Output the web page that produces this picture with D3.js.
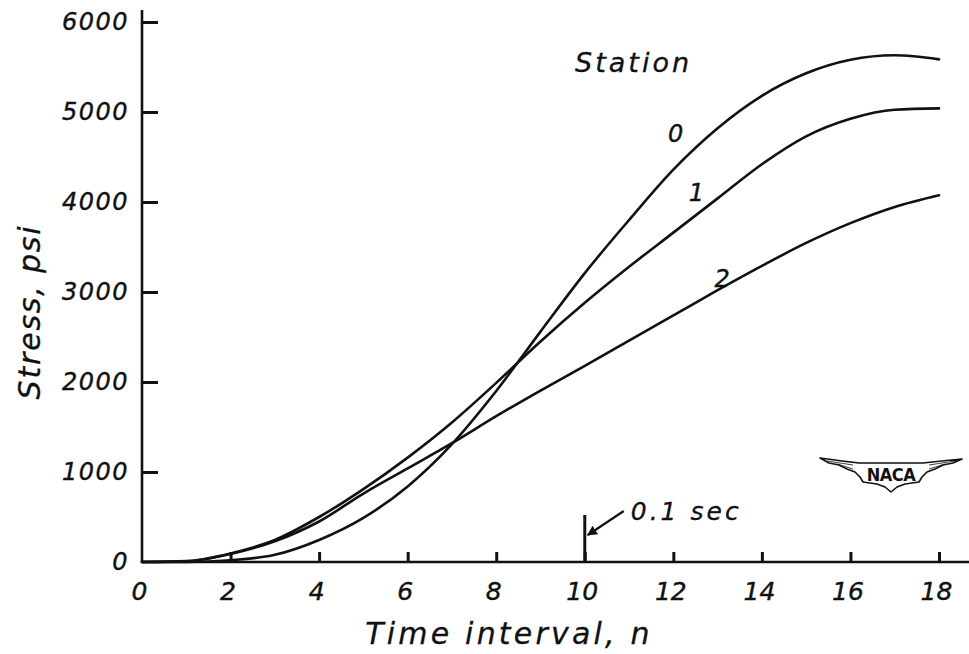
<!DOCTYPE html>
<html>
<head>
<meta charset="utf-8">
<script src="https://cdn.jsdelivr.net/npm/d3@7"></script>
<style>
  body { margin: 0; background: #fff; }
  text { font-family: "DejaVu Sans", sans-serif; font-style: oblique; fill: #111; }
</style>
</head>
<body>
<div id="chart"></div>
<script>
// time interval n, stress (psi) at each interval
const intervals = d3.range(0, 19);
const station0 = [0, 0, 20, 80, 245, 490, 840, 1310, 1900, 2560, 3210, 3800, 4360, 4820, 5180, 5430, 5580, 5630, 5585];
const station1 = [0, 10, 95, 245, 500, 810, 1160, 1550, 1990, 2450, 2880, 3280, 3660, 4040, 4420, 4730, 4925, 5025, 5040];
const station2 = [0, 5, 90, 230, 450, 760, 1040, 1320, 1620, 1905, 2180, 2460, 2740, 3020, 3290, 3545, 3765, 3945, 4075];
const stationNames = ["0", "1", "2"];
const xTicks = [0, 2, 4, 6, 8, 10, 12, 14, 16, 18];
const yTicks = [0, 1000, 2000, 3000, 4000, 5000, 6000];

const width = 969;
const height = 654;
const margin = { top: 22, right: 30, bottom: 92, left: 142 };

const svg = d3.select("#chart")
  .append("svg")
  .attr("width", width)
  .attr("height", height)
  .attr("viewBox", [0, 0, width, height]);

svg.append("rect").attr("width", width).attr("height", height).attr("fill", "#fff");

const x = d3.scaleLinear()
  .domain([0, 18])
  .range([margin.left, width - margin.right]);

const y = d3.scaleLinear()
  .domain([0, 6000])
  .range([height - margin.bottom, margin.top]);

// axis lines (hand drawn frame runs a bit past the last ticks)
svg.append("line")
  .attr("x1", x(0)).attr("x2", x(0))
  .attr("y1", y(0) + 1).attr("y2", y(6000) - 12)
  .attr("stroke", "#111").attr("stroke-width", 2.6);
svg.append("line")
  .attr("x1", x(0)).attr("x2", width)
  .attr("y1", y(0)).attr("y2", y(0))
  .attr("stroke", "#111").attr("stroke-width", 2.6);

function yAxis(g) {
  g.attr("transform", `translate(${margin.left},0)`)
    .call(d3.axisLeft(y).tickValues(yTicks).tickFormat(d3.format("d"))
      .tickSizeInner(-16).tickSizeOuter(0).tickPadding(13))
    .attr("font-size", "24px")
    .attr("font-family", null);
  g.select(".domain").remove();
  g.selectAll(".tick line").attr("stroke", "#111").attr("stroke-width", 3);
  g.selectAll(".tick text").attr("letter-spacing", "1.5px").attr("fill", "#111")
    .attr("stroke", "#111").attr("stroke-width", 0.4);
  g.selectAll(".tick").filter(d => d === 0).select("line").remove();
}

function xAxis(g) {
  g.attr("transform", `translate(0,${y(0)})`)
    .call(d3.axisBottom(x).tickValues(xTicks)
      .tickSizeInner(-10).tickSizeOuter(0).tickPadding(20))
    .attr("font-size", "25px")
    .attr("font-family", null);
  g.select(".domain").remove();
  g.selectAll(".tick line").attr("stroke", "#111").attr("stroke-width", 3);
  g.selectAll(".tick text").attr("fill", "#111").attr("dx", "-3")
    .attr("stroke", "#111").attr("stroke-width", 0.4);
  g.selectAll(".tick").filter(d => d === 0).select("line").remove();
}

svg.append("g").call(xAxis);
svg.append("g").call(yAxis);

// curves
const series = [station0, station1, station2].map((vals, i) => ({
  name: stationNames[i],
  points: intervals.map((n, j) => ({ n, v: vals[j] }))
}));

const line = d3.line()
  .x(d => x(d.n))
  .y(d => y(d.v))
  .curve(d3.curveMonotoneX);

svg.append("g")
  .attr("fill", "none")
  .attr("stroke", "#111")
  .attr("stroke-width", 2.6)
  .attr("stroke-linejoin", "round")
  .attr("stroke-linecap", "round")
  .selectAll("path")
  .data(series)
  .join("path")
  .attr("d", d => line(d.points));

// curve labels
const labelAt = [[12.05, 4760], [12.52, 4110], [13.1, 3150]];
svg.append("g")
  .attr("font-size", "24px")
  .attr("text-anchor", "middle")
  .selectAll("text")
  .data(series)
  .join("text")
  .attr("x", (d, i) => x(labelAt[i][0]))
  .attr("y", (d, i) => y(labelAt[i][1]))
  .attr("dy", "0.35em")
  .attr("stroke", "#111").attr("stroke-width", 0.4)
  .text(d => d.name);

svg.append("text")
  .attr("x", x(9.78))
  .attr("y", 72)
  .attr("font-size", "27px")
  .attr("letter-spacing", "3px")
  .attr("stroke", "#111").attr("stroke-width", 0.3)
  .text("Station");

// 0.1 sec marker
svg.append("defs").append("marker")
  .attr("id", "arrow")
  .attr("viewBox", "0 0 10 10")
  .attr("refX", 9).attr("refY", 5)
  .attr("markerWidth", 10).attr("markerHeight", 10)
  .attr("markerUnits", "userSpaceOnUse")
  .attr("orient", "auto")
  .append("path")
  .attr("d", "M0,0L10,5L0,10Z")
  .attr("fill", "#111");

svg.append("line")
  .attr("x1", x(10)).attr("x2", x(10))
  .attr("y1", y(0)).attr("y2", y(0) - 47)
  .attr("stroke", "#111").attr("stroke-width", 3);

svg.append("line")
  .attr("x1", x(10) + 39).attr("y1", y(0) - 51)
  .attr("x2", x(10) + 3).attr("y2", y(0) - 27)
  .attr("stroke", "#111").attr("stroke-width", 2.2)
  .attr("marker-end", "url(#arrow)");

svg.append("text")
  .attr("x", x(10) + 46)
  .attr("y", y(0) - 42)
  .attr("font-size", "25px")
  .attr("letter-spacing", "3px")
  .attr("stroke", "#111").attr("stroke-width", 0.3)
  .text("0.1 sec");

// axis titles
svg.append("text")
  .attr("transform", `translate(40,${(y(0) + y(6000)) / 2 + 20}) rotate(-90)`)
  .attr("text-anchor", "middle")
  .attr("font-size", "30px")
  .attr("letter-spacing", "1.8px")
  .attr("stroke", "#111").attr("stroke-width", 0.3)
  .text("Stress, psi");

svg.append("text")
  .attr("x", 509)
  .attr("y", 644)
  .attr("text-anchor", "middle")
  .attr("font-size", "30px")
  .attr("letter-spacing", "3.2px")
  .attr("stroke", "#111").attr("stroke-width", 0.3)
  .text("Time interval, n");

// NACA wing emblem
const naca = svg.append("g").attr("transform", "translate(891,475)");
naca.append("path")
  .attr("d", "M-71,-17 Q-50,-14 -32,-12 L32,-12 Q50,-14 71,-16 L62,-12 L52,-10 L44,-6 L36,-3 L31,2 L28,7 L14,9 L6,12 L0,17 L-6,12 L-14,9 L-28,7 L-31,2 L-36,-3 L-44,-6 L-52,-10 L-62,-12 Z")
  .attr("fill", "#fff")
  .attr("stroke", "#111")
  .attr("stroke-width", 1.6)
  .attr("stroke-linejoin", "round");
naca.append("path")
  .attr("d", "M-64,-14 L-38,-10 M64,-14 L38,-10 M-54,-11 L-38,-6 M54,-11 L38,-6")
  .attr("stroke", "#111")
  .attr("stroke-width", 0.8);
naca.append("text")
  .attr("x", 0).attr("y", 6)
  .attr("text-anchor", "middle")
  .attr("font-size", "18px")
  .style("font-style", "normal")
  .attr("font-weight", "bold")
  .style("font-family", "'DejaVu Sans Condensed', 'DejaVu Sans', sans-serif")
  .attr("letter-spacing", "-0.5px")
  .text("NACA");
</script>
</body>
</html>
